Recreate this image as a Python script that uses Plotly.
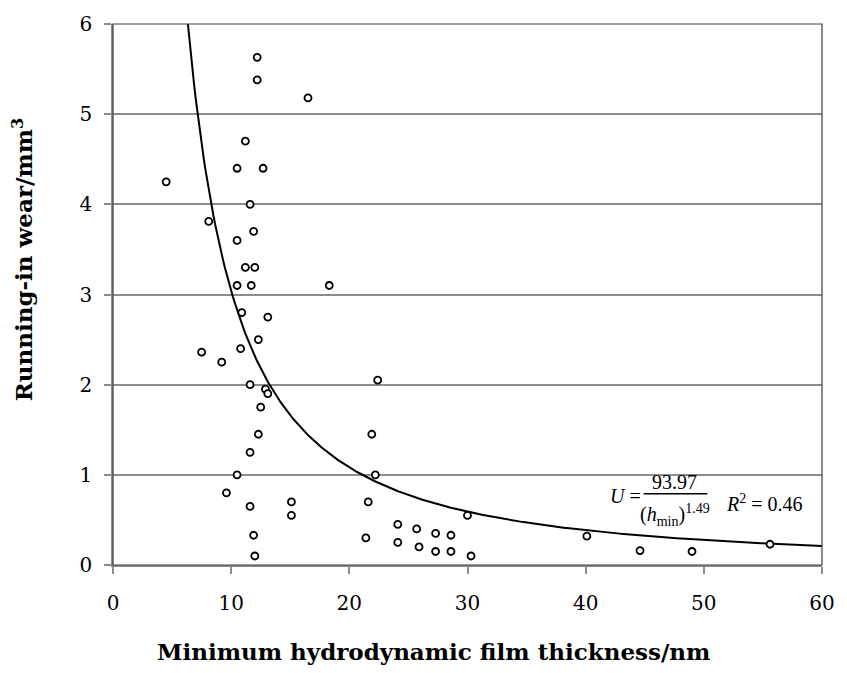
import numpy as np
import plotly.graph_objects as go

# Measured running-in wear vs. minimum hydrodynamic film thickness
film_thickness_nm = [
    12.2, 12.2, 16.5, 11.2, 10.5, 12.7, 4.5, 11.6, 8.1, 11.9, 10.5, 11.2, 12.0,
    10.5, 11.7, 18.3, 10.9, 13.1, 12.3, 7.5, 10.8, 9.2, 11.6, 12.9, 13.1, 12.5,
    12.3, 11.6, 10.5, 9.6, 11.6, 15.1, 15.1, 11.9, 12.0, 22.4, 21.9, 22.2, 21.6,
    21.4, 24.1, 24.1, 25.7, 25.9, 27.3, 27.3, 28.6, 28.6, 30.0, 30.3, 40.1, 44.6,
    49.0, 55.6,
]
running_in_wear_mm3 = [
    5.63, 5.38, 5.18, 4.70, 4.40, 4.40, 4.25, 4.00, 3.81, 3.70, 3.60, 3.30, 3.30,
    3.10, 3.10, 3.10, 2.80, 2.75, 2.50, 2.36, 2.40, 2.25, 2.00, 1.95, 1.90, 1.75,
    1.45, 1.25, 1.00, 0.80, 0.65, 0.70, 0.55, 0.33, 0.10, 2.05, 1.45, 1.00, 0.70,
    0.30, 0.45, 0.25, 0.40, 0.20, 0.35, 0.15, 0.33, 0.15, 0.55, 0.10, 0.32, 0.16,
    0.15, 0.23,
]

# Power-law fit U = a / h^b
fit_coeff = 93.97
fit_exponent = 1.49
fit_r2 = 0.46

x_ticks = [0, 10, 20, 30, 40, 50, 60]
y_ticks = [0, 1, 2, 3, 4, 5, 6]

h_fit = np.linspace(5.5, 60, 400)
u_fit = fit_coeff / h_fit ** fit_exponent

grid_col = "#8c8c8c"
serif = "Liberation Serif"
axis_font = "DejaVu Serif"

fig = go.Figure()
fig.add_trace(go.Scatter(
    x=h_fit, y=u_fit, mode="lines",
    line=dict(color="black", width=2), hoverinfo="skip", showlegend=False,
))
fig.add_trace(go.Scatter(
    x=film_thickness_nm, y=running_in_wear_mm3, mode="markers",
    marker=dict(symbol="circle", size=7, color="white",
                line=dict(color="black", width=1.8)),
    showlegend=False,
))

# Fit equation: U = 93.97 / (h_min)^1.49   R^2 = 0.46
eq_size = 20
eq_font = dict(family=serif, size=eq_size, color="black")
fig.add_annotation(x=43.4, y=0.77, xref="x", yref="y", showarrow=False,
                   text="<i>U</i> =", font=eq_font)
fig.add_annotation(x=47.5, y=0.92, xref="x", yref="y", showarrow=False,
                   text=f"{fit_coeff:.2f}", font=eq_font)
fig.add_annotation(x=47.6, y=0.56, xref="x", yref="y", showarrow=False,
                   text=f"(<i>h</i><sub>min</sub>)<sup>{fit_exponent}</sup>",
                   font=eq_font)
fig.add_shape(type="line", xref="x", yref="y", x0=44.9, x1=50.3, y0=0.79, y1=0.79,
              line=dict(color="black", width=1.5))
fig.add_annotation(x=55.1, y=0.69, xref="x", yref="y", showarrow=False,
                   text=f"<i>R</i><sup>2</sup> = {fit_r2:.2f}", font=eq_font)

# Axis titles
title_font = dict(family=axis_font, size=23, color="black")
fig.add_annotation(x=-0.127, y=0.565, xref="paper", yref="paper", showarrow=False,
                   text="<b>Running-in wear/mm<sup>3</sup></b>", textangle=-90,
                   xanchor="center", yanchor="middle", font=title_font)
fig.add_annotation(x=0.452, y=-0.159, xref="paper", yref="paper", showarrow=False,
                   text="<b>Minimum hydrodynamic film thickness/nm</b>",
                   xanchor="center", yanchor="middle", font=title_font)

# Plot-area frame
fig.add_shape(type="rect", xref="paper", yref="paper", x0=0, x1=1, y0=0, y1=1,
              line=dict(color="#404040", width=1.2), layer="above")

fig.update_layout(
    width=847, height=673,
    margin=dict(l=113, r=19, t=17, b=108),
    paper_bgcolor="white", plot_bgcolor="white",
    font=dict(family=axis_font, color="black"),
)
fig.update_xaxes(
    range=[0, 60], tickvals=x_ticks, ticktext=[str(v) for v in x_ticks],
    showgrid=False, zeroline=False,
    showline=True, linecolor=grid_col, linewidth=1.5,
    ticks="outside", ticklen=7, tickcolor=grid_col, tickwidth=1.5,
    ticklabelstandoff=12,
    tickfont=dict(family=axis_font, size=20, color="black"),
)
fig.update_yaxes(
    range=[0, 6], tickvals=y_ticks, ticktext=[str(v) for v in y_ticks],
    showgrid=True, gridcolor=grid_col, gridwidth=1.5, zeroline=False,
    showline=True, linecolor=grid_col, linewidth=1.5,
    ticks="outside", ticklen=7, tickcolor=grid_col, tickwidth=1.5,
    ticklabelstandoff=8,
    tickfont=dict(family=axis_font, size=20, color="black"),
)

fig.write_html("out.html")
